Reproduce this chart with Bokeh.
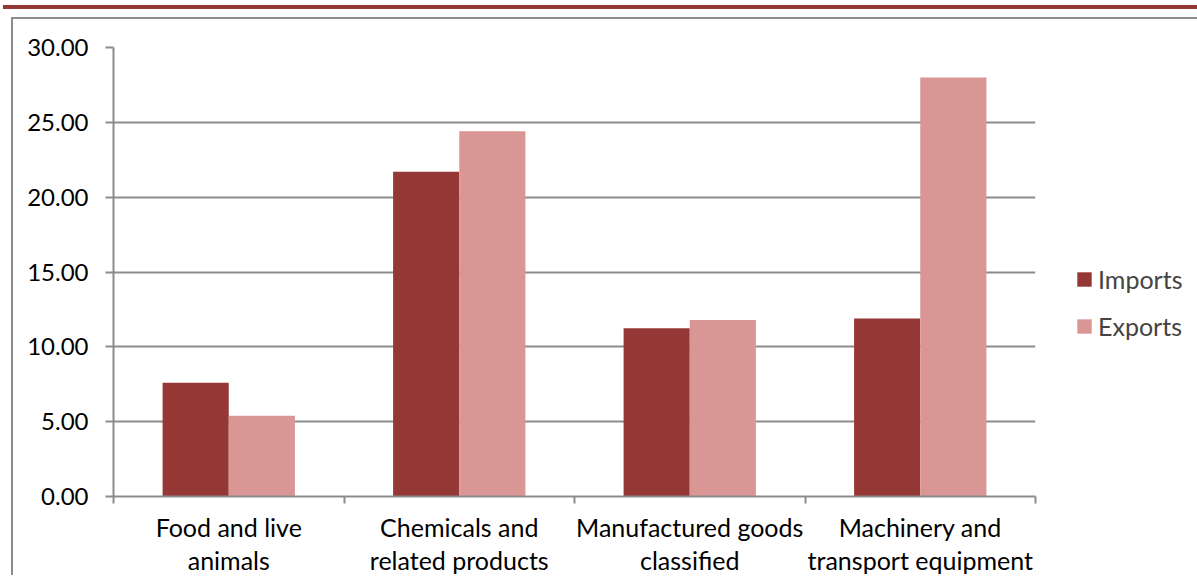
from bokeh.plotting import figure
from bokeh.models import (ColumnDataSource, FixedTicker, NumeralTickFormatter, LinearAxis,
                          Legend, LegendItem, Div, Range1d, Grid)
from bokeh.layouts import column
from bokeh.embed import file_html
from bokeh.resources import INLINE

categories = ["Food and live\nanimals", "Chemicals and\nrelated products",
              "Manufactured goods\nclassified", "Machinery and\ntransport equipment"]
imports = [7.6, 21.7, 11.25, 11.9]
exports = [5.4, 24.4, 11.8, 28.0]
series_names = ["Imports", "Exports"]
y_ticks = [0, 5, 10, 15, 20, 25, 30]

IMP_COLOR = "#953735"
EXP_COLOR = "#D99694"
GRID = "#8c8c8c"
FONT = "Lato"

n = len(categories)
bw = 0.287
centers = [i + 0.5 for i in range(n)]
src_imp = ColumnDataSource(dict(x=[c - bw / 2 for c in centers], top=imports))
src_exp = ColumnDataSource(dict(x=[c + bw / 2 for c in centers], top=exports))

p = figure(frame_width=920, frame_height=447, output_backend="svg", toolbar_location=None,
           x_range=Range1d(0, n), y_range=Range1d(0, 30),
           min_border_left=100, min_border_top=28, min_border_right=0, min_border_bottom=75,
           x_axis_type=None, y_axis_type=None,
           styles={"border-top": "2px solid #8c8c8c", "border-left": "2px solid #8c8c8c"},
           margin=(8, 0, 0, 11))
p.outline_line_color = None
p.background_fill_color = "white"
p.border_fill_color = "white"

r1 = p.vbar(x="x", top="top", width=bw, bottom=0, source=src_imp, fill_color=IMP_COLOR, line_color=None)
r2 = p.vbar(x="x", top="top", width=bw, bottom=0, source=src_exp, fill_color=EXP_COLOR, line_color=None)

yax = LinearAxis(ticker=FixedTicker(ticks=y_ticks), formatter=NumeralTickFormatter(format="0.00"))
yax.axis_line_color = GRID
yax.axis_line_width = 2
yax.major_tick_line_color = GRID
yax.major_tick_line_width = 2
yax.major_tick_out = 8
yax.major_tick_in = 0
yax.minor_tick_line_color = None
yax.major_label_standoff = 17
yax.major_label_text_font = FONT
yax.major_label_text_font_size = "24px"
yax.major_label_text_color = "black"
p.add_layout(yax, "left")

xax = LinearAxis(ticker=FixedTicker(ticks=centers, minor_ticks=list(range(n + 1))))
xax.major_label_overrides = {c: lab for c, lab in zip(centers, categories)}
xax.axis_line_color = GRID
xax.axis_line_width = 2
xax.major_tick_line_color = None
xax.major_tick_out = 0
xax.major_tick_in = 0
xax.minor_tick_line_color = GRID
xax.minor_tick_line_width = 2
xax.minor_tick_out = 7
xax.minor_tick_in = 0
xax.major_label_standoff = 8
xax.major_label_text_font = FONT
xax.major_label_text_font_size = "25px"
xax.major_label_text_color = "black"
xax.major_label_text_line_height = 1.1
p.add_layout(xax, "below")

g = Grid(dimension=1, ticker=yax.ticker, grid_line_color=GRID, grid_line_width=2)
p.add_layout(g)

legend = Legend(items=[LegendItem(label=series_names[0], renderers=[r1]),
                       LegendItem(label=series_names[1], renderers=[r2])],
                location="top_left", padding=0, margin=40, spacing=17,
                glyph_width=18, glyph_height=18, label_standoff=5,
                label_text_font=FONT, label_text_font_size="25px",
                title=" ", title_text_font_size="1px", title_standoff=176,
                border_line_color=None, background_fill_alpha=0)
p.add_layout(legend, "right")

red = Div(width=1194, height=4, styles={"background-color": IMP_COLOR}, margin=(5, 0, 0, 3))
lay = column(red, p, spacing=0)

open("out.html", "w").write(file_html(lay, INLINE))
